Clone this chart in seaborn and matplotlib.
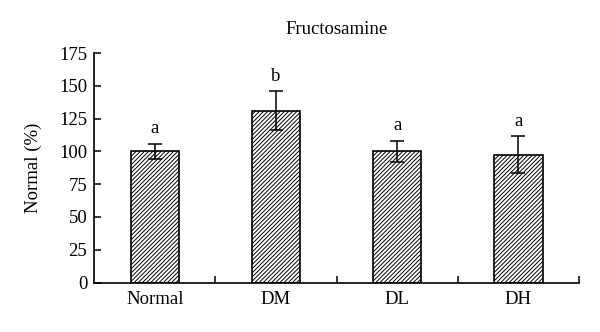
import matplotlib
matplotlib.use("Agg")
import matplotlib.pyplot as plt
import seaborn as sns
import pandas as pd

groups = ["Normal", "DM", "DL", "DH"]
means = [100, 131, 100, 97.5]
sds = [6, 15, 8, 14]
letters = ["a", "b", "a", "a"]

df = pd.DataFrame({"group": groups, "value": means})

sns.set_theme(style="ticks")
plt.rcParams["font.family"] = ["Liberation Serif", "DejaVu Serif"]
plt.rcParams["hatch.linewidth"] = 0.7
plt.rcParams["text.color"] = "black"
plt.rcParams["xtick.color"] = "black"
plt.rcParams["ytick.color"] = "black"
plt.rcParams["axes.labelcolor"] = "black"

fig = plt.figure(figsize=(6, 3.32), dpi=100)
ax = fig.add_axes([0.157, 0.149, 0.808, 0.691])

sns.barplot(data=df, x="group", y="value", ax=ax, color="white",
            edgecolor="black", linewidth=1.2, width=0.4, errorbar=None)
for p in ax.patches:
    p.set_hatch("////////")

for i, (m, s, lab) in enumerate(zip(means, sds, letters)):
    ax.errorbar(i, m, yerr=s, fmt="none", ecolor="black", elinewidth=1.1,
                capsize=5, capthick=1.1)
    ax.text(i, m + s + 5, lab, ha="center", va="bottom", fontsize=13.5)

ax.set_xlim(-0.5, 3.5)
ax.set_ylim(0, 175)
ax.set_yticks(range(0, 176, 25))
ax.set_xticks(range(4))
ax.set_xticklabels(groups)
ax.set_xticks([0.5, 1.5, 2.5, 3.5], minor=True)
ax.tick_params(axis="x", which="major", length=0, pad=6, labelsize=13.5)
ax.tick_params(axis="x", which="minor", direction="in", length=5, width=1.1)
ax.tick_params(axis="y", direction="in", length=5, width=1.1, labelsize=13.5, pad=5)
sns.despine(ax=ax)
for sp in ["left", "bottom"]:
    ax.spines[sp].set_linewidth(1.2)
    ax.spines[sp].set_color("black")

ax.set_xlabel("")
ax.set_ylabel("Normal (%)", fontsize=13.5, labelpad=12)
ax.set_title("Fructosamine", fontsize=13.5, pad=14)

fig.savefig("out.png", dpi=100)
